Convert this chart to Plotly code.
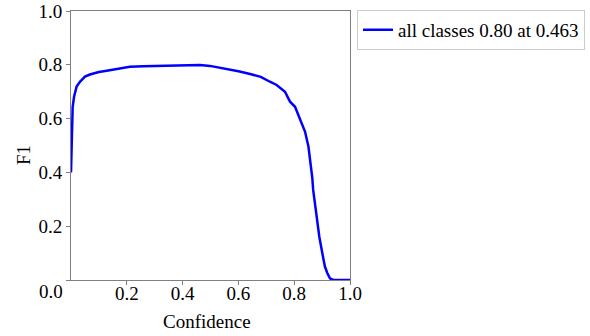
import plotly.graph_objects as go

confidence = [0.0, 0.0025, 0.004, 0.006, 0.011, 0.020, 0.032, 0.050, 0.068, 0.080, 0.10,
              0.128, 0.17, 0.211, 0.26, 0.319, 0.38, 0.43, 0.462, 0.498, 0.53, 0.570,
              0.60, 0.642, 0.68, 0.713, 0.737, 0.767, 0.785, 0.803, 0.821, 0.839, 0.851,
              0.859, 0.865, 0.868, 0.878, 0.890, 0.902, 0.910, 0.919, 0.928, 0.94, 1.0]
f1 = [0.40, 0.50, 0.565, 0.644, 0.681, 0.719, 0.737, 0.756, 0.764, 0.768, 0.773,
      0.778, 0.787, 0.793, 0.795, 0.797, 0.797, 0.798, 0.799, 0.796, 0.790, 0.784,
      0.776, 0.766, 0.755, 0.737, 0.725, 0.700, 0.663, 0.644, 0.601, 0.551, 0.496,
      0.434, 0.378, 0.335, 0.248, 0.161, 0.093, 0.050, 0.025, 0.006, 0.0, 0.0]

series_name = "all classes 0.80 at 0.463"
x_ticks = [0.2, 0.4, 0.6, 0.8, 1.0]
x_ticktext = ["0.2", "0.4", "0.6", "0.8", "1.0"]
y_ticks = [0.0, 0.2, 0.4, 0.6, 0.8, 1.0]
y_ticktext = ["", "0.2", "0.4", "0.6", "0.8", "1.0"]

FONT = "Liberation Serif, Times New Roman, serif"
FS = 19

fig = go.Figure()
fig.add_trace(go.Scatter(x=confidence, y=f1, mode="lines", name=series_name,
                         line=dict(color="#0000ff", width=2.5), cliponaxis=False))

axis_common = dict(showgrid=False, zeroline=False, showline=True, mirror=True,
                   linecolor="#808080", linewidth=1, ticks="outside", ticklen=4,
                   tickcolor="#808080", automargin=False, ticklabeloverflow="allow",
                   tickfont=dict(family=FONT, size=FS, color="#000"))

fig.update_layout(
    width=590, height=336,
    margin=dict(l=71, r=240, t=11, b=56, autoexpand=False),
    plot_bgcolor="white", paper_bgcolor="white",
    font=dict(family=FONT, size=FS, color="#000"),
    showlegend=True,
    legend=dict(x=1.025, y=1.004, xanchor="left", yanchor="top",
                bordercolor="#cccccc", borderwidth=1, bgcolor="white",
                font=dict(family=FONT, size=FS, color="#000"),
                itemwidth=30, tracegroupgap=0),
    xaxis=dict(range=[0, 1], tickvals=x_ticks, ticktext=x_ticktext,
               ticklabelstandoff=-8, **axis_common),
    yaxis=dict(range=[0, 1], tickvals=y_ticks, ticktext=y_ticktext, **axis_common),
)
fig.add_annotation(text="0.0", xref="paper", yref="paper", x=0, y=0, xanchor="right",
                   yanchor="middle", xshift=-6, yshift=-11, showarrow=False,
                   font=dict(family=FONT, size=FS, color="#000"))
fig.add_annotation(text="Confidence", xref="paper", yref="paper", x=0.489, y=-0.156,
                   xanchor="center", yanchor="middle", showarrow=False,
                   font=dict(family=FONT, size=FS, color="#000"))
fig.add_annotation(text="F1", xref="paper", yref="paper", x=-0.168, y=0.465,
                   xanchor="center", yanchor="middle", textangle=-90, showarrow=False,
                   font=dict(family=FONT, size=FS, color="#000"))

fig.write_html("out.html", config={"displayModeBar": False},
               post_script="document.body.style.margin='0';document.body.style.overflow='hidden';")
